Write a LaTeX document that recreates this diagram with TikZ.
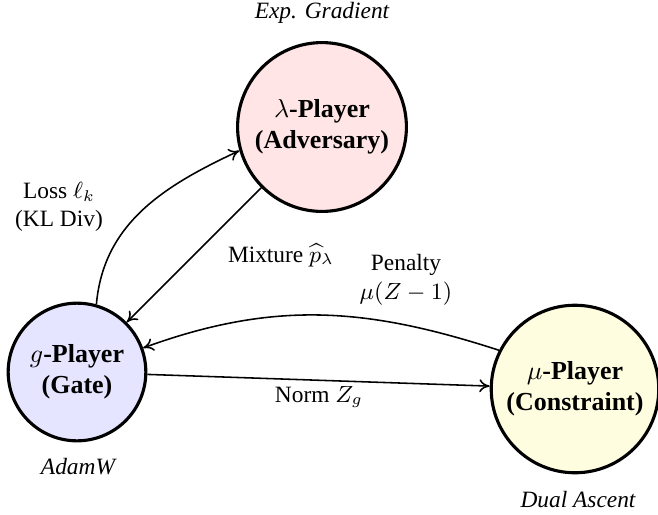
\documentclass[tikz,border=0pt]{standalone}
\usepackage{fontspec}
\setmainfont{Liberation Serif}
\usetikzlibrary{arrows.meta}
\begin{document}
\begin{tikzpicture}[x=0.385pt,y=-0.385pt,
  player/.style={circle,draw,line width=1.2pt,inner sep=0pt,align=center,font=\bfseries},
  lbl/.style={font=\small,align=center,inner sep=1pt},
  alg/.style={font=\small\itshape,inner sep=1pt},
  conn/.style={-{To[length=4pt,width=5pt]},line width=0.6pt}]
\useasboundingbox (0,0) rectangle (658,514);
\node[player,fill=red!10,minimum size=65pt] (lam) at (322,127) {$\lambda$-Player\\(Adversary)};
\node[player,fill=blue!10,minimum size=53pt] (g) at (77,372) {$g$-Player\\(Gate)};
\node[player,fill=yellow!12,minimum size=64.5pt] (mu) at (575,389) {$\mu$-Player\\(Constraint)};
\node[alg] (expg) at (322,13) {Exp. Gradient};
\node[alg] (adamw) at (78,467) {AdamW};
\node[alg] (dual) at (578,500) {Dual Ascent};
\draw[conn] (g.74) to[out=85,in=205] (lam.196);
\draw[conn] (lam) -- (g);
\draw[conn] (mu.153) to[out=162,in=20] (g.20);
\draw[conn] (g) -- (mu);
\node[lbl] (lossl) at (59,207) {Loss $\ell_k$\\(KL Div)};
\node[lbl] (mixl) at (281,255) {Mixture $\widehat{p}_\lambda$};
\node[lbl] (penl) at (406,280) {Penalty\\$\mu(Z-1)$};
\node[lbl] (norml) at (319,397) {Norm $Z_g$};
\end{tikzpicture}
\end{document}
